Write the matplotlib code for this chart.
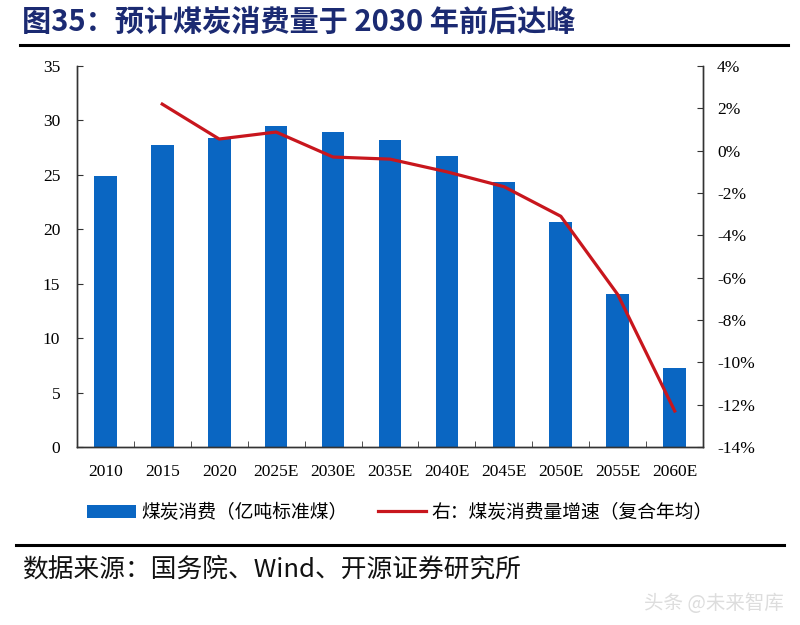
import numpy as np
import matplotlib
matplotlib.use("Agg")
import matplotlib.pyplot as plt
from matplotlib.patches import Patch
from matplotlib.lines import Line2D
from matplotlib.ticker import FuncFormatter

plt.rcParams['font.family'] = ['Liberation Serif', 'Noto Sans CJK SC', 'DejaVu Sans']

# data
years = ['2010', '2015', '2020', '2025E', '2030E', '2035E', '2040E', '2045E', '2050E', '2055E', '2060E']
coal_use = [24.9, 27.7, 28.4, 29.5, 28.9, 28.2, 26.7, 24.3, 20.7, 14.1, 7.3]
growth_years = years[1:]
growth_rate = [2.2, 0.55, 0.88, -0.3, -0.4, -1.0, -1.7, -3.1, -6.8, -12.3]

bar_color = '#0A66C2'
line_color = '#C8161D'

fig = plt.figure(figsize=(8, 6.25), dpi=100)
ax = fig.add_axes([0.096, 0.2848, 0.783, 0.6096])

x = np.arange(len(years))
ax.bar(x, coal_use, width=0.4, color=bar_color, zorder=2)
ax.set_xlim(-0.5, len(years) - 0.5)
ax.set_ylim(0, 35)
ax.set_yticks(np.arange(0, 36, 5))
ax.set_xticks(x)
ax.set_xticklabels(years, fontsize=12.5)
ax.set_xticks(np.arange(-0.5, len(years), 1), minor=True)
ax.tick_params(axis='x', which='major', length=0, pad=12)
ax.tick_params(axis='x', which='minor', direction='in', length=4, color='#333333')
ax.tick_params(axis='y', direction='in', length=4, labelsize=12.5, pad=12, color='#333333')

ax2 = ax.twinx()
gx = np.arange(1, len(years))
ax2.plot(gx, growth_rate, color=line_color, linewidth=2.3, zorder=3)
ax2.set_ylim(-14, 4)
ax2.set_yticks(np.arange(-14, 5, 2))
ax2.yaxis.set_major_formatter(FuncFormatter(lambda v, p: f'{int(v)}%'))
ax2.tick_params(axis='y', direction='in', length=4, labelsize=12.5, pad=10, color='#333333')

for a in (ax, ax2):
    a.spines['top'].set_visible(False)
    for s in ('left', 'right', 'bottom'):
        a.spines[s].set_color('#333333')
        a.spines[s].set_linewidth(1.0)

handles = [Patch(facecolor=bar_color, label='煤炭消费（亿吨标准煤）'),
           Line2D([0], [0], color=line_color, linewidth=2.3, label='右：煤炭消费量增速（复合年均）')]
fig.legend(handles=handles, loc='center', bbox_to_anchor=(0.5, 0.18), ncol=2, frameon=False,
           prop={'family': ['Noto Sans CJK SC'], 'size': 13.5}, handlelength=2.6, columnspacing=1.6,
           handletextpad=0.3)

fig.text(0.028, 0.965, '图35：预计煤炭消费量于 2030 年前后达峰', fontsize=21, fontweight='bold',
         color='#1B2A72', va='center', family=['Noto Sans CJK SC'])
fig.add_artist(Line2D([0.025, 0.985], [0.928, 0.928], color='black', linewidth=2.2))
fig.add_artist(Line2D([0.02, 0.98], [0.128, 0.128], color='black', linewidth=2.2))
fig.text(0.028, 0.088, '数据来源：国务院、Wind、开源证券研究所', fontsize=18.5, color='#111111', va='center',
         family=['Noto Sans CJK SC'])
fig.text(0.98, 0.035, '头条 @未来智库', fontsize=14, color='#DDDDDD', ha='right', va='center',
         family=['Noto Sans CJK SC'])

fig.savefig('out.png', dpi=100)
